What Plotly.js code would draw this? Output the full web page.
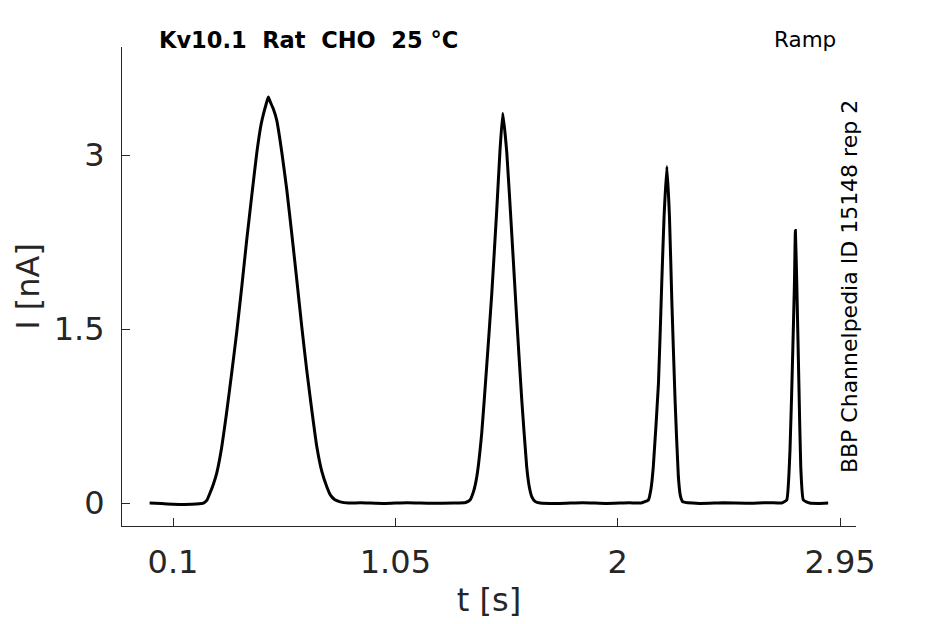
<!DOCTYPE html>
<html>
<head>
<meta charset="utf-8">
<script src="https://cdn.plot.ly/plotly-3.0.1.min.js"></script>
<style>
    html, body { margin: 0; padding: 0; background: #ffffff; }
    #chart { width: 945px; height: 624px; }
</style>
</head>
<body>
<div id="chart"></div>
<script>
// time [s]
var timeValues = [
    0.0, 0.05, 0.1, 0.15, 0.2, 0.23, 0.245, 0.258, 0.272, 0.287, 0.308, 0.329, 0.350, 0.372, 0.394, 0.415,
    0.437, 0.458, 0.476, 0.486, 0.498, 0.507, 0.515, 0.528, 0.543, 0.565, 0.586, 0.608, 0.629, 0.650,
    0.671, 0.693, 0.714, 0.736, 0.757, 0.772, 0.790, 0.814, 0.85, 0.9,
    1.0, 1.1, 1.2, 1.3, 1.35, 1.369, 1.384, 1.398, 1.419, 1.440, 1.462, 1.483, 1.497, 1.509,
    1.526, 1.547, 1.569, 1.590, 1.611, 1.622, 1.633, 1.648, 1.668, 1.75,
    1.85, 1.95, 2.05, 2.1, 2.131, 2.142, 2.152, 2.174, 2.188, 2.198, 2.210, 2.221, 2.231,
    2.245, 2.259, 2.268, 2.278, 2.35, 2.45, 2.55, 2.65, 2.70, 2.722, 2.736, 2.748, 2.755,
    2.759, 2.765, 2.774, 2.782, 2.793, 2.82, 2.86, 2.899
];

// current [nA]
var currentValues = [
    0.0, -0.005, -0.01, -0.012, -0.008, 0.0, 0.025, 0.086, 0.16, 0.26, 0.48, 0.78, 1.11, 1.47, 1.87, 2.27,
    2.66, 3.02, 3.26, 3.35, 3.44, 3.50, 3.46, 3.40, 3.30, 3.02, 2.70, 2.31, 1.92, 1.52,
    1.15, 0.80, 0.49, 0.27, 0.14, 0.07, 0.03, 0.01, 0.0, 0.002,
    -0.004, 0.003, -0.002, 0.0, 0.005, 0.026, 0.10, 0.229, 0.603, 1.175, 1.81, 2.52, 3.04, 3.36,
    3.02, 2.33, 1.57, 0.888, 0.313, 0.14, 0.054, 0.012, 0.0, -0.004,
    0.003, -0.003, 0.002, 0.0, 0.026, 0.12, 0.313, 1.03, 1.89, 2.47, 2.90, 2.47, 1.75,
    0.888, 0.227, 0.06, 0.011, -0.003, 0.002, -0.002, 0.003, 0.0, 0.026, 0.457, 1.32, 1.89,
    2.35, 1.89, 1.03, 0.313, 0.026, 0.0, -0.003, 0.0
];

var xTicks = [0.1, 1.05, 2, 2.95];
var xTickLabels = ["0.1", "1.05", "2", "2.95"];
var yTicks = [0, 1.5, 3];
var yTickLabels = ["0", "1.5", "3"];

var titleParts = ["Kv10.1", "Rat", "CHO", "25 °C"];
var protocolText = "Ramp";
var sourceText = "BBP Channelpedia ID 15148 rep 2";

var axisColor = "#262626";
var fontFamily = "DejaVu Sans, Liberation Sans, sans-serif";

var traceLine =
{
    x: timeValues,
    y: currentValues,
    mode: "lines",
    type: "scatter",
    line: { color: "#000000", width: 3, shape: "spline", smoothing: 0.4 },
    hoverinfo: "skip"
};

var layout =
{
    width: 945,
    height: 624,
    margin: { l: 122, r: 89, t: 47, b: 98 },
    paper_bgcolor: "#ffffff",
    plot_bgcolor: "#ffffff",
    showlegend: false,
    font: { family: fontFamily, color: axisColor },
    xaxis:
    {
        range: [-0.118, 3.018],
        tickvals: xTicks,
        ticktext: xTickLabels,
        ticks: "inside",
        ticklen: 8,
        tickwidth: 1,
        tickcolor: axisColor,
        ticklabelstandoff: 8,
        showline: true,
        linecolor: axisColor,
        linewidth: 1,
        showgrid: false,
        zeroline: false,
        tickfont: { size: 32, color: axisColor },
        title: { text: "t [s]", font: { size: 32, color: axisColor }, standoff: 8 }
    },
    yaxis:
    {
        range: [-0.198, 3.931],
        tickvals: yTicks,
        ticktext: yTickLabels,
        ticks: "inside",
        ticklen: 8,
        tickwidth: 1,
        tickcolor: axisColor,
        ticklabelstandoff: 10,
        showline: true,
        linecolor: axisColor,
        linewidth: 1,
        showgrid: false,
        zeroline: false,
        tickfont: { size: 32, color: axisColor },
        title: { text: "I [nA]", font: { size: 32, color: axisColor }, standoff: 4 }
    },
    annotations:
    [
        {
            text: "<b>" + titleParts.join("&nbsp;&nbsp;") + "</b>",
            xref: "paper", yref: "paper",
            x: 0.048, y: 1.015,
            xanchor: "left", yanchor: "middle",
            showarrow: false,
            font: { size: 22.5, color: "#000000" }
        },
        {
            text: protocolText,
            xref: "paper", yref: "paper",
            x: 0.9755, y: 1.015,
            xanchor: "right", yanchor: "middle",
            showarrow: false,
            font: { size: 21.5, color: "#000000" }
        },
        {
            text: sourceText,
            xref: "paper", yref: "paper",
            x: 0.992, y: 0.499,
            xanchor: "center", yanchor: "middle",
            textangle: -90,
            showarrow: false,
            font: { size: 22, color: "#000000" }
        }
    ]
};

Plotly.newPlot("chart", [traceLine], layout, { staticPlot: true, displayModeBar: false });
</script>
</body>
</html>
